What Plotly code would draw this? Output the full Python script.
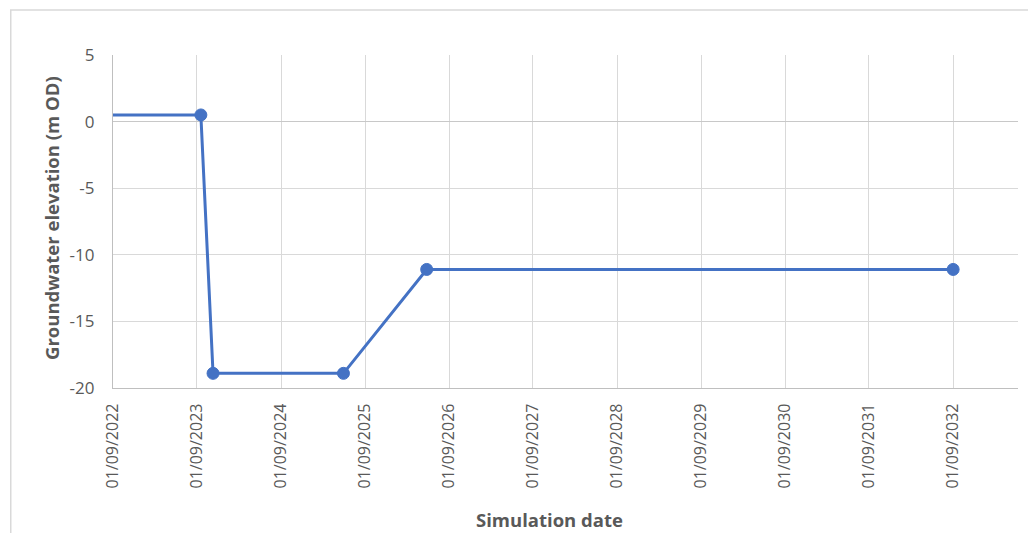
import plotly.graph_objects as go

# simulated groundwater level at the monitoring point
dates = ["2022-09-01", "2023-09-18", "2023-11-10", "2025-05-30", "2026-05-27", "2032-09-01"]
levels = [0.5, 0.5, -18.9, -18.9, -11.1, -11.1]
marker_sizes = [0, 12, 12, 12, 12, 12]

tick_dates = ["%d-09-01" % y for y in range(2022, 2033)]
tick_labels = ["01/09/%d" % y for y in range(2022, 2033)]
y_ticks = [5, 0, -5, -10, -15, -20]
y_labels = ["5", "0", "-5", "-10", "-15", "-20"]

grey = "#595959"
grid = "#d9d9d9"
font = "Open Sans"

fig = go.Figure()
fig.add_trace(go.Scatter(
    x=dates, y=levels, mode="lines+markers",
    line=dict(color="#4472C4", width=3),
    marker=dict(color="#4472C4", size=marker_sizes, opacity=1,
                line=dict(color="#4472C4", width=1)),
    cliponaxis=False,
))

fig.update_xaxes(
    type="date",
    range=["2022-09-01", "2033-06-10"],
    tickvals=tick_dates, ticktext=tick_labels,
    tickangle=-90,
    tickfont=dict(family=font, size=16, color=grey),
    ticklabelstandoff=8,
    showgrid=True, gridcolor=grid, gridwidth=1.3,
    showline=True, linecolor="#bfbfbf", linewidth=1.3,
    zeroline=False,
)
fig.update_yaxes(
    range=[-20, 5],
    tickvals=y_ticks, ticktext=y_labels,
    tickfont=dict(family=font, size=17, color=grey),
    ticklabelstandoff=14,
    showgrid=True, gridcolor=grid, gridwidth=1.3,
    showline=True, linecolor="#bfbfbf", linewidth=1.3,
    zeroline=True, zerolinecolor="#c8c8c8", zerolinewidth=1.3,
)

# the page body has an 8px margin, so the figure is a little smaller than the window
fig.update_layout(
    width=1028, height=525,
    margin=dict(l=105, r=18, t=47, b=145),
    plot_bgcolor="white", paper_bgcolor="white",
    showlegend=False,
    shapes=[dict(
        type="rect", xref="paper", yref="paper",
        x0=-0.113, x1=1.012, y0=-0.46, y1=1.135,
        line=dict(color="#d9d9d9", width=1.5), layer="below",
    )],
    annotations=[
        dict(text="<b>Simulation date</b>", xref="paper", yref="paper",
             x=0.482, y=-0.396, showarrow=False, yanchor="middle",
             font=dict(family=font, size=18.5, color=grey)),
        dict(text="<b>Groundwater elevation (m OD)</b>", xref="paper", yref="paper",
             x=-0.068, y=0.512, textangle=-90, showarrow=False,
             xanchor="center", yanchor="middle",
             font=dict(family=font, size=18.5, color=grey)),
    ],
)

fig.write_html("out.html")
